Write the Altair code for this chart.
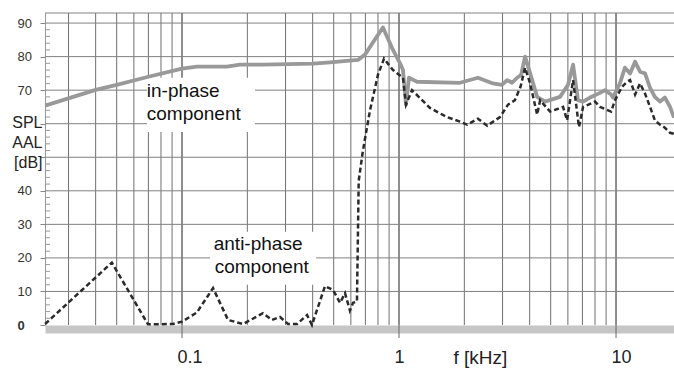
import altair as alt
import pandas as pd

# ---- data ----
in_f = [0.0234, 0.040, 0.050, 0.070, 0.100, 0.117, 0.161, 0.185, 0.236, 0.402, 0.481,
        0.647, 0.697, 0.758, 0.843, 0.938, 1.011, 1.043, 1.077, 1.111, 1.210, 1.910,
        2.31, 2.71, 2.98, 3.15, 3.32, 3.50, 3.65, 3.81, 4.02, 4.33, 4.71, 5.52, 6.01,
        6.34, 6.68, 7.05, 7.59, 8.44, 8.89, 9.49, 9.68, 10.42, 10.99, 11.61, 12.24,
        12.9, 13.6, 14.35, 15.1, 15.96, 16.8, 17.74, 18.5]
in_db = [65.4, 70.1, 71.6, 74.0, 76.4, 77.0, 77.0, 77.6, 77.6, 77.9, 78.3,
         79.0, 80.6, 84.2, 88.7, 82.0, 78.0, 76.0, 65.7, 73.7, 72.5, 72.2,
         73.7, 72.0, 71.6, 73.0, 72.2, 73.7, 74.5, 80.0, 75.0, 68.0, 66.6, 68.0, 71.6,
         77.6, 67.0, 66.6, 67.8, 69.2, 70.0, 68.7, 67.8, 72.0, 76.7, 75.0, 78.5,
         75.5, 75.0, 70.7, 68.0, 66.6, 67.8, 65.0, 61.8]

anti_f = [0.0234, 0.0475, 0.0697, 0.0910, 0.100, 0.117, 0.139, 0.163, 0.191, 0.236,
          0.260, 0.283, 0.308, 0.339, 0.377, 0.397, 0.456, 0.497, 0.535, 0.564, 0.594,
          0.614, 0.640, 0.652, 0.682, 0.735, 0.800, 0.853, 0.938, 1.043, 1.077, 1.148,
          1.389, 1.66, 1.91, 2.06, 2.31, 2.55, 2.92, 3.18, 3.42, 3.63, 3.81, 4.02,
          4.33, 4.47, 4.97, 5.70, 5.95, 6.34, 6.75, 7.05, 8.00, 8.44, 9.49, 9.89,
          10.66, 11.24, 11.61, 12.24, 12.9, 13.6, 14.35, 15.1, 15.96, 16.8, 17.74, 18.5]
anti_db = [0.3, 18.6, 0.2, 0.3, 1.0, 3.7, 11.0, 1.5, 0.3, 3.5,
           1.5, 2.4, 0.3, 0.3, 3.0, 0.0, 11.6, 10.4, 6.6, 9.5, 4.3,
           6.6, 7.0, 43.0, 52.0, 64.0, 74.6, 79.4, 76.0, 73.7, 65.7, 70.0,
           64.7, 62.0, 60.6, 59.7, 61.5, 59.4, 62.0, 65.7, 67.0, 71.0, 76.7, 72.0,
           62.7, 67.0, 63.6, 65.0, 61.0, 73.0, 59.0, 65.0, 66.6, 65.0, 63.6, 67.0,
           71.0, 72.5, 73.0, 68.7, 72.0, 69.0, 65.0, 61.0, 59.7, 58.8, 57.3, 57.0]

x_grid = [0.03, 0.04, 0.05, 0.06, 0.07, 0.08, 0.09,
          0.1, 0.2, 0.3, 0.4, 0.5, 0.6, 0.7, 0.8, 0.9,
          1, 2, 3, 4, 5, 6, 7, 8, 9, 10]
x_major = [0.1, 1, 10]
y_grid = [10, 20, 30, 40, 50, 60, 70, 80, 90, 93]
y_ticks = [0, 10, 20, 30, 40, 50, 60, 70, 80, 90]
y_minor = [v for v in range(2, 92, 2) if v % 10 != 0]

notes_text = ["in-phase", "component", "anti-phase", "component"]
notes_f = [0.0688, 0.0688, 0.1400, 0.1415]
notes_db = [68.1, 61.2, 22.4, 15.5]

box_f1 = [0.0690, 0.1346]
box_f2 = [0.217, 0.415]
box_db1 = [57.5, 12.0]
box_db2 = [73.7, 27.8]

W, H = 629, 312
FONT = "Liberation Sans"

xs = alt.Scale(type="log", domain=[0.02337, 18.5], nice=False)
ys = alt.Scale(domain=[0, 93], nice=False, zero=False)

xaxis = alt.Axis(values=x_major, format="~g", grid=False, ticks=False,
                 domainColor="#c6c6c6", domainWidth=8, offset=4, zindex=0,
                 labelFont=FONT, labelFontSize=18, labelColor="#222",
                 labelAlign="left", labelOffset=-5, labelBaseline="alphabetic",
                 labelPadding=33, labelFlush=False,
                 title="f [kHz]", titleFont=FONT, titleFontSize=19,
                 titleFontWeight="normal", titleColor="#222", titleAlign="left",
                 titleBaseline="alphabetic", titleX=408, titleY=34)
yaxis = alt.Axis(values=y_ticks, grid=False, tickSize=5, tickColor="#888",
                 domainColor="#999", labelFont=FONT, labelFontSize=13,
                 labelColor="#333", labelAlign="left", labelPadding=23,
                 labelExpr="(datum.value == 50 || datum.value == 60) ? '' : datum.label",
                 labelFontWeight=alt.ExprRef("datum.value == 0 ? 'bold' : 'normal'"),
                 title=["SPL", "AAL", "[dB]"], titleFont=FONT, titleFontSize=16,
                 titleFontWeight="normal", titleColor="#222", titleAngle=0,
                 titleAlign="right", titleBaseline="alphabetic", titleLineHeight=20,
                 titleX=-3, titleY=114)

X = lambda f: alt.X(f, type="quantitative", scale=xs, axis=xaxis)
Y = lambda f: alt.Y(f, type="quantitative", scale=ys, axis=yaxis)

df_in = pd.DataFrame({"f": in_f, "db": in_db})
df_anti = pd.DataFrame({"f": anti_f, "db": anti_db})
df_vg = pd.DataFrame({"f": x_grid})
df_vm = pd.DataFrame({"f": x_major})
df_hg = pd.DataFrame({"db": y_grid})
df_mn = pd.DataFrame({"db": y_minor})
df_box = pd.DataFrame({"f1": box_f1, "f2": box_f2, "d1": box_db1, "d2": box_db2})
df_txt = pd.DataFrame({"f": notes_f, "db": notes_db, "t": notes_text})

vgrid = alt.Chart(df_vg).mark_rule(color="#707070", strokeWidth=1).encode(x=X("f"))
vmajor = alt.Chart(df_vm).mark_rule(color="#666", strokeWidth=1, clip=False).encode(
    x=X("f"), y=alt.value(0), y2=alt.value(H + 13))
hgrid = alt.Chart(df_hg).mark_rule(color="#808080", strokeWidth=1).encode(y=Y("db"))
minor = alt.Chart(df_mn).mark_rule(color="#999", strokeWidth=1).encode(
    y=Y("db"), x=alt.value(0), x2=alt.value(5))
boxes = alt.Chart(df_box).mark_rect(color="white").encode(
    x=X("f1"), x2="f2", y=Y("d1"), y2="d2")
line_in = alt.Chart(df_in).mark_line(color="#999999", strokeWidth=3.8,
                                     strokeJoin="round").encode(x=X("f"), y=Y("db"))
line_anti = alt.Chart(df_anti).mark_line(color="#2b2b2b", strokeWidth=2.5,
                                         strokeDash=[5, 3]).encode(x=X("f"), y=Y("db"))
texts = alt.Chart(df_txt).mark_text(font=FONT, fontSize=19, color="#111",
                                    align="left", baseline="alphabetic").encode(
    x=X("f"), y=Y("db"), text="t")

chart = alt.layer(vgrid, vmajor, hgrid, minor, boxes, line_in, line_anti, texts).properties(
    width=W, height=H,
    autosize=alt.AutoSizeParams(type="none"),
    padding={"left": 45, "top": 13, "right": 0, "bottom": 45},
    background="white",
).configure_view(stroke=None)

chart.save("out.html", embed_options={"renderer": "svg", "actions": False})
